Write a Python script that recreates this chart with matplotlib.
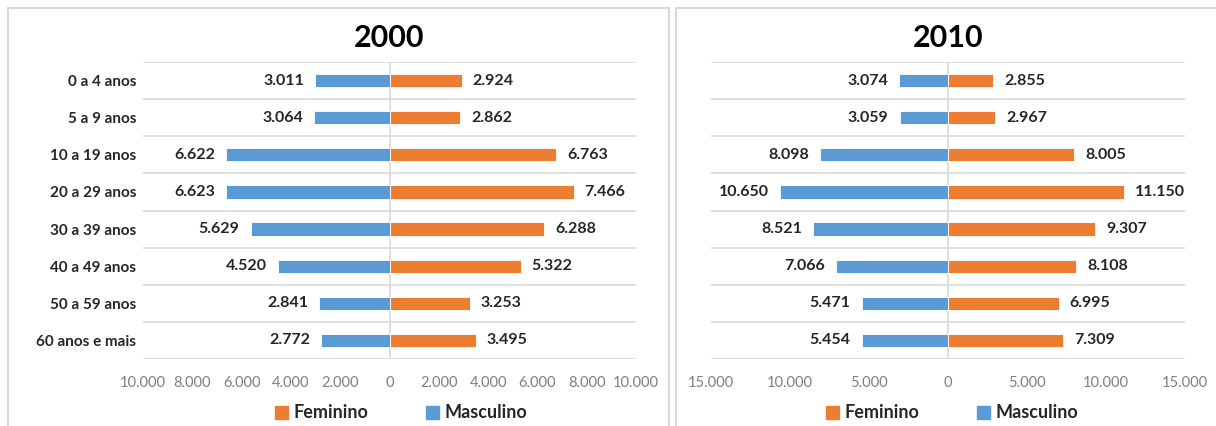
import matplotlib
matplotlib.use("Agg")
import matplotlib.pyplot as plt
from matplotlib.patches import Patch, Rectangle
from matplotlib.ticker import FuncFormatter, FixedLocator

plt.rcParams['font.family'] = ['Lato', 'DejaVu Sans']

categories = ["0 a 4 anos", "5 a 9 anos", "10 a 19 anos", "20 a 29 anos",
              "30 a 39 anos", "40 a 49 anos", "50 a 59 anos", "60 anos e mais"]
masc_2000 = [3011, 3064, 6622, 6623, 5629, 4520, 2841, 2772]
fem_2000 = [2924, 2862, 6763, 7466, 6288, 5322, 3253, 3495]
masc_2010 = [3074, 3059, 8098, 10650, 8521, 7066, 5471, 5454]
fem_2010 = [2855, 2967, 8005, 11150, 9307, 8108, 6995, 7309]
ticks_2000 = [-10000, -8000, -6000, -4000, -2000, 0, 2000, 4000, 6000, 8000, 10000]
ticks_2010 = [-15000, -10000, -5000, 0, 5000, 10000, 15000]

ORANGE = "#ED7D31"
BLUE = "#5B9BD5"
GRID = "#D9D9D9"

W, H = 1216, 426
fig = plt.figure(figsize=(W / 100, H / 100), dpi=100)

def fmt(v):
    return f"{abs(int(round(v))):,}".replace(",", ".")

# panel borders
for (x0, x1) in [(8, 669), (676, 1220)]:
    fig.add_artist(Rectangle((x0 / W, -0.05), (x1 - x0) / W, 1.05 - 8 / H,
                             transform=fig.transFigure, fill=False,
                             edgecolor=GRID, lw=1.5))

def draw(ax, masc, fem, ticks, lim, title, show_y, title_x, legend_x):
    y = list(range(len(categories)))
    bm = ax.barh(y, [-m for m in masc], height=0.36, color=BLUE, edgecolor="white", lw=0.6)
    bf = ax.barh(y, fem, height=0.36, color=ORANGE, edgecolor="white", lw=0.6)
    ax.bar_label(bm, labels=[fmt(v) for v in masc], padding=8,
                 fontsize=11.5, fontweight="bold", color="#262626")
    ax.bar_label(bf, labels=[fmt(v) for v in fem], padding=8,
                 fontsize=11.5, fontweight="bold", color="#262626")
    ax.set_xlim(-lim, lim)
    ax.set_ylim(len(categories) - 0.5, -0.5)
    ax.axvline(0, color=GRID, lw=1.2, zorder=0)
    ax.yaxis.set_minor_locator(FixedLocator([i - 0.5 for i in range(len(categories) + 1)]))
    ax.grid(which="minor", axis="y", color=GRID, lw=1.2)
    ax.set_axisbelow(True)
    ax.set_xticks(ticks)
    ax.xaxis.set_major_formatter(FuncFormatter(lambda v, p: fmt(v)))
    ax.tick_params(axis="x", length=0, pad=12, labelsize=10.5, labelcolor="#7F7F7F")
    ax.tick_params(axis="y", which="both", length=0)
    ax.set_yticks(y)
    if show_y:
        ax.set_yticklabels(categories, fontsize=11, fontweight="bold", color="#262626")
        ax.tick_params(axis="y", pad=5)
    else:
        ax.set_yticklabels([])
    for s in ax.spines.values():
        s.set_visible(False)
    fig.text(title_x, 1 - 38 / H, title, ha="center", va="center",
             fontsize=22, fontweight="bold", color="#000000")
    handles = [Patch(color=ORANGE, label="Feminino"), Patch(color=BLUE, label="Masculino")]
    fig.legend(handles=handles, loc="center", bbox_to_anchor=(legend_x, 1 - 413 / H),
               ncol=2, frameon=False, prop={"size": 13, "weight": "bold"},
               handlelength=0.7, handleheight=0.7, handletextpad=0.3,
               columnspacing=3.2, labelcolor="#262626")

ax1 = fig.add_axes([143 / W, 1 - 359 / H, (636 - 143) / W, (359 - 62) / H])
draw(ax1, masc_2000, fem_2000, ticks_2000, 10000, "2000", True, 389 / W, 401 / W)

ax2 = fig.add_axes([711 / W, 1 - 359 / H, (1185 - 711) / W, (359 - 62) / H])
draw(ax2, masc_2010, fem_2010, ticks_2010, 15000, "2010", False, 948 / W, 952 / W)

fig.savefig("out.png", dpi=100)
